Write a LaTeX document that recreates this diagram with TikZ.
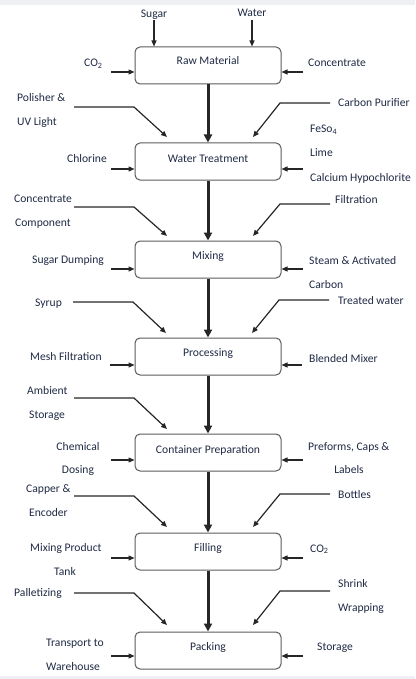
\documentclass[tikz,border=0pt]{standalone}
\usepackage{fontspec}
\setmainfont{Carlito}
\usetikzlibrary{arrows.meta}
\definecolor{txt}{HTML}{1F2A44}
\definecolor{ln}{HTML}{262626}
\definecolor{bx}{HTML}{5A5A5A}
\definecolor{strip}{HTML}{EEF0F4}
\tikzset{
  box/.style={draw=bx, line width=1pt, rounded corners=5pt, minimum width=146pt, minimum height=37pt, inner sep=0pt},
  boxtxt/.style={text=txt, inner sep=0pt, text height=8pt, text depth=0pt},
  lbl/.style={text=txt, inner sep=0pt, text height=8pt, text depth=0pt, anchor=west},
  clbl/.style={text=txt, inner sep=0pt, text height=8pt, text depth=0pt, anchor=center},
  mainarrow/.style={draw=ln, line width=3pt, -{Triangle[length=8pt,width=8pt]}},
  thinarrow/.style={draw=ln, line width=1.2pt, -{Triangle[length=6pt,width=5pt]}},
}
\begin{document}
\begin{tikzpicture}[x=1pt,y=-1pt, font=\fontsize{11.6}{13}\selectfont]
\useasboundingbox (0,0) rectangle (415,679);
\fill[strip] (0,0) rectangle (415,5);
\fill[strip] (0,676) rectangle (415,679);

% boxes
\node[box] (raw) at (208,65.5) {};
\node[box] (wat) at (208,161.5) {};
\node[box] (mix) at (208,259.5) {};
\node[box] (pro) at (208,356.5) {};
\node[box] (con) at (208,452.5) {};
\node[box] (fil) at (208,551.5) {};
\node[box] (pac) at (208,650.5) {};
\node[boxtxt] (rawt) at (208,61) {Raw Material};
\node[boxtxt] (watt) at (208,158) {Water Treatment};
\node[boxtxt] (mixt) at (208,255) {Mixing};
\node[boxtxt] (prot) at (208,352) {Processing};
\node[boxtxt] (cont) at (208,449) {Container Preparation};
\node[boxtxt] (filt) at (208,547) {Filling};
\node[boxtxt] (pact) at (208,646) {Packing};

% main flow
\draw[mainarrow] (raw) -- (wat);
\draw[mainarrow] (wat) -- (mix);
\draw[mainarrow] (mix) -- (pro);
\draw[mainarrow] (pro) -- (con);
\draw[mainarrow] (con) -- (fil);
\draw[mainarrow] (fil) -- (pac);

% Raw Material inputs
\node[clbl] (sugar) at (154,14) {Sugar};
\node[clbl] (water) at (252,13) {Water};
\coordinate (sugarS) at (154,20);
\coordinate (waterS) at (252,20);
\draw[thinarrow] (sugarS) -- (sugarS |- raw.north);
\draw[thinarrow] (waterS) -- (waterS |- raw.north);
\node[lbl] (co2a) at (84,63) {CO\textsubscript{2}};
\node[lbl] (conc) at (308,63) {Concentrate};
\coordinate (rawL) at (111,72);
\coordinate (rawR) at (303,72);
\draw[thinarrow] (rawL) -- (rawL -| raw.west);
\draw[thinarrow] (rawR) -- (rawR -| raw.east);

% Water Treatment inputs
\node[lbl] (pol1) at (17,98) {Polisher \&};
\node[lbl] (pol2) at (17,122) {UV Light};
\node[lbl] (carb) at (338,103) {Carbon Purifier};
\node[lbl] (feso) at (310,129) {FeSo\textsubscript{4}};
\node[lbl] (lime) at (310,153) {Lime};
\node[lbl] (calc) at (310,177) {Calcium Hypochlorite};
\node[lbl] (chlo) at (67,159) {Chlorine};
\coordinate (watDL) at (74,107);
\coordinate (watDR) at (330,103);
\coordinate (watTL) at (167,137);
\coordinate (watTR) at (253,137);
\draw[thinarrow] (watDL) -- ++(60,0) -- (watTL);
\draw[thinarrow] (watDR) -- ++(-50,0) -- (watTR);
\coordinate (watL) at (111,169);
\coordinate (watR) at (303,169);
\draw[thinarrow] (watL) -- (watL -| wat.west);
\draw[thinarrow] (watR) -- (watR -| wat.east);

% Mixing inputs
\node[lbl] (cc1) at (14,198) {Concentrate};
\node[lbl] (cc2) at (15,222) {Component};
\node[lbl] (filtr) at (335,199) {Filtration};
\node[lbl] (sdump) at (32,259) {Sugar Dumping};
\node[lbl] (steam1) at (309,260) {Steam \& Activated};
\node[lbl] (steam2) at (309,284) {Carbon};
\coordinate (mixDL) at (74,207);
\coordinate (mixDR) at (330,204);
\coordinate (mixTL) at (167,236);
\coordinate (mixTR) at (253,236);
\draw[thinarrow] (mixDL) -- ++(60,0) -- (mixTL);
\draw[thinarrow] (mixDR) -- ++(-50,0) -- (mixTR);
\coordinate (mixL) at (111,269);
\coordinate (mixR) at (303,269);
\draw[thinarrow] (mixL) -- (mixL -| mix.west);
\draw[thinarrow] (mixR) -- (mixR -| mix.east);

% Processing inputs
\node[lbl] (syrup) at (35,302) {Syrup};
\node[lbl] (treat) at (338,300) {Treated water};
\node[lbl] (mesh) at (30,356) {Mesh Filtration};
\node[lbl] (blend) at (309,358) {Blended Mixer};
\coordinate (proDL) at (73,302);
\coordinate (proDR) at (329,300);
\coordinate (proTL) at (166,333);
\coordinate (proTR) at (252,333);
\draw[thinarrow] (proDL) -- ++(60,0) -- (proTL);
\draw[thinarrow] (proDR) -- ++(-50,0) -- (proTR);
\coordinate (proL) at (110,365);
\coordinate (proR) at (302,365);
\draw[thinarrow] (proL) -- (proL -| pro.west);
\draw[thinarrow] (proR) -- (proR -| pro.east);

% Container Preparation inputs
\node[lbl] (amb1) at (27,390) {Ambient};
\node[lbl] (amb2) at (29,414) {Storage};
\node[clbl] (chem1) at (78,446) {Chemical};
\node[clbl] (chem2) at (78,469) {Dosing};
\node[lbl] (pref1) at (308,446) {Preforms, Caps \&};
\node[clbl] (pref2) at (349,469) {Labels};
\coordinate (conDL) at (74,398);
\coordinate (conTL) at (167,429);
\draw[thinarrow] (conDL) -- ++(60,0) -- (conTL);
\coordinate (conL) at (111,460);
\coordinate (conR) at (303,460);
\draw[thinarrow] (conL) -- (conL -| con.west);
\draw[thinarrow] (conR) -- (conR -| con.east);

% Filling inputs
\node[lbl] (cap1) at (26,488) {Capper \&};
\node[lbl] (cap2) at (29,512) {Encoder};
\node[lbl] (bott) at (338,494) {Bottles};
\node[lbl] (mixp1) at (30,547) {Mixing Product};
\node[clbl] (mixp2) at (65,571) {Tank};
\node[lbl] (co2b) at (310,548) {CO\textsubscript{2}};
\coordinate (filDL) at (74,496);
\coordinate (filDR) at (330,494);
\coordinate (filTL) at (167,527);
\coordinate (filTR) at (253,527);
\draw[thinarrow] (filDL) -- ++(60,0) -- (filTL);
\draw[thinarrow] (filDR) -- ++(-50,0) -- (filTR);
\coordinate (filL) at (111,558);
\coordinate (filR) at (303,558);
\draw[thinarrow] (filL) -- (filL -| fil.west);
\draw[thinarrow] (filR) -- (filR -| fil.east);

% Packing inputs
\node[lbl] (pall) at (14,592) {Palletizing};
\node[lbl] (shr1) at (338,583) {Shrink};
\node[lbl] (shr2) at (338,607) {Wrapping};
\node[lbl] (tra1) at (46,642) {Transport to};
\node[lbl] (tra2) at (46,666) {Warehouse};
\node[lbl] (stor) at (317,646) {Storage};
\coordinate (pacDL) at (74,593);
\coordinate (pacDR) at (330,591);
\coordinate (pacTL) at (167,625);
\coordinate (pacTR) at (253,625);
\draw[thinarrow] (pacDL) -- ++(60,0) -- (pacTL);
\draw[thinarrow] (pacDR) -- ++(-50,0) -- (pacTR);
\coordinate (pacL) at (111,656);
\coordinate (pacR) at (303,656);
\draw[thinarrow] (pacL) -- (pacL -| pac.west);
\draw[thinarrow] (pacR) -- (pacR -| pac.east);
\end{tikzpicture}
\end{document}
